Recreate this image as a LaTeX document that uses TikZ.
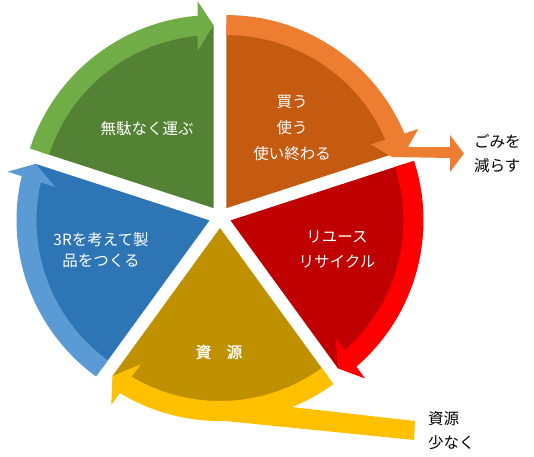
\documentclass[tikz,border=0pt]{standalone}
\usepackage{fontspec}
\setmainfont{Noto Sans CJK JP}
\newfontfamily\jpbold{Noto Sans CJK JP}[FakeBold=1.5]
\definecolor{gD}{HTML}{548235}\definecolor{gL}{HTML}{70AD47}
\definecolor{oD}{HTML}{C55A11}\definecolor{oL}{HTML}{ED7D31}
\definecolor{rD}{HTML}{C00000}\definecolor{rL}{HTML}{FF0000}
\definecolor{yD}{HTML}{BF9000}\definecolor{yL}{HTML}{FFC000}
\definecolor{bD}{HTML}{2E75B6}\definecolor{bL}{HTML}{5B9BD5}
\newcommand\wedgeseg[5]{%
  \begin{scope}[shift={#1},rotate=#2]
    \fill[#3] (0,0) -- (0:183) arc[start angle=0,end angle=72,radius=183] -- cycle;
    \fill[#4] (4.5:173) arc[start angle=4.5,end angle=72,radius=173]
      -- (72:193) arc[start angle=72,end angle=4.5,radius=193] -- cycle;
    \coordinate (#5b1) at (157,16);
    \coordinate (#5b2) at (207,16);
    \coordinate (#5t) at (183,0);
  \end{scope}}
\tikzset{
  wtxt/.style={text=white,inner sep=0pt},
  ktxt/.style={text=black,inner sep=0pt},
}
\begin{document}
\begin{tikzpicture}[x=1pt,y=1pt]
\useasboundingbox (0,0) rectangle (534,456);
% wedges with bands
\wedgeseg{(213.53,247.90)}{90}{gD}{gL}{g}
\wedgeseg{(226.47,247.90)}{18}{oD}{oL}{o}
\wedgeseg{(230.46,235.60)}{-54}{rD}{rL}{r}
\wedgeseg{(220,228)}{-126}{yD}{yL}{y}
\wedgeseg{(209.54,235.60)}{162}{bD}{bL}{b}
% arrowheads
\fill[gL] (gb1) -- (gt) -- (gb2) -- cycle;
\fill[rL] (rb1) -- (rt) -- (rb2) -- cycle;
\fill[yL] (yb1) -- (yt) -- (yb2) -- cycle;
\fill[bL] (bb1) -- (bt) -- (bb2) -- cycle;
% orange arrow turning to the right
\fill[oL] (ob1) -- (392,299) -- (450,298) -- (450,284) -- (464,302.5)
  -- (450,321) -- (450,309) -- (408,309) -- (ob2) -- cycle;
% yellow tail
\fill[yL] (215,36) -- (414,16) -- (415,35) -- (235,55.4) -- cycle;
% texts
\node[wtxt,align=center,font=\fontsize{15.5}{26}\selectfont] (use) at (292,327.5) {買う\\使う\\使い終わる};
\node[wtxt,font=\fontsize{15.5}{18}\selectfont] (carry) at (147,327) {無駄なく運ぶ};
\node[wtxt,align=center,font=\fontsize{15.5}{21}\selectfont] (design) at (101,206) {3Rを考えて製\\品をつくる};
\node[wtxt,font=\jpbold\fontsize{15.5}{18}\selectfont] (res) at (219,104) {資　源};
\node[wtxt,align=center,font=\fontsize{15.5}{25}\selectfont] (reuse) at (337,206.5) {リユース\\リサイクル};
\node[ktxt,anchor=west,align=left,font=\fontsize{15.5}{24}\selectfont] (gomi) at (474,302) {ごみを\\減らす};
\node[ktxt,anchor=west,align=left,font=\fontsize{15.5}{24}\selectfont] (less) at (428,25) {資源\\少なく};
\end{tikzpicture}
\end{document}
